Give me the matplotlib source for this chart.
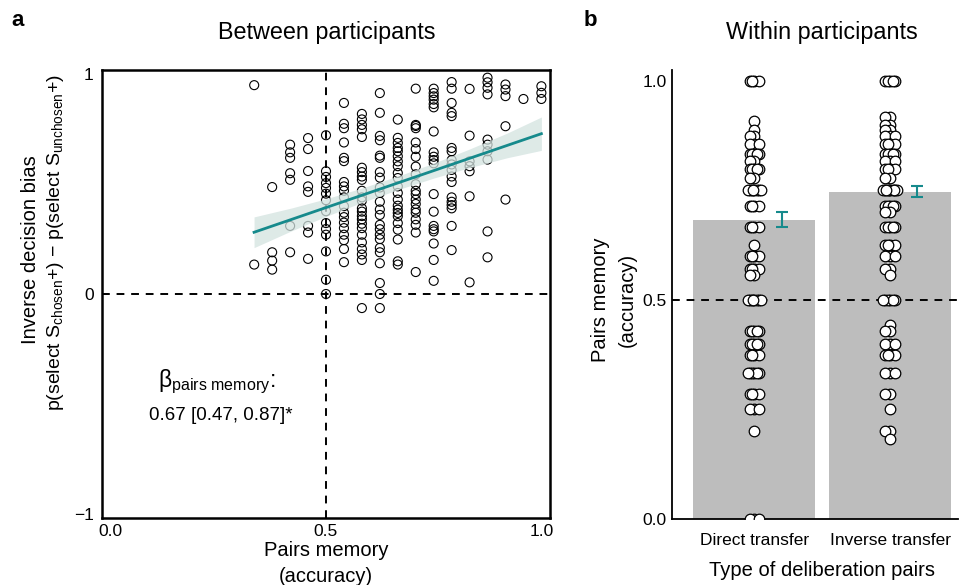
import numpy as np
import matplotlib
matplotlib.use("Agg")
import matplotlib.pyplot as plt

plt.rcParams['font.family'] = ['Liberation Sans', 'DejaVu Sans']
plt.rcParams['mathtext.fontset'] = 'custom'
plt.rcParams['mathtext.rm'] = 'Liberation Sans'
plt.rcParams['mathtext.it'] = 'Liberation Sans'
plt.rcParams['mathtext.default'] = 'regular'

# ---------------- Panel a data (between participants) ----------------
# pairs-memory accuracy levels (k correct out of 24) and inverse decision bias per participant
acc_08 = [0.951, 0.134]
acc_09 = [0.487, 0.190, 0.152, 0.111]
acc_10 = [0.680, 0.645, 0.620, 0.550, 0.520, 0.310, 0.190]
acc_11 = [0.710, 0.660, 0.560, 0.490, 0.465, 0.310, 0.280, 0.160]
acc_12 = [0.723, 0.559, 0.533, 0.505, 0.483, 0.457, 0.427, 0.377, 0.323, 0.296,
          0.270, 0.194, 0.065, 0.000]
acc_13 = [0.870, 0.775, 0.755, 0.690, 0.620, 0.605, 0.510, 0.490, 0.470, 0.440,
          0.400, 0.370, 0.350, 0.325, 0.300, 0.270, 0.245, 0.205, 0.145]
acc_14 = [0.820, 0.795, 0.770, 0.750, 0.715, 0.575, 0.555, 0.535, 0.520, 0.470,
          0.440, 0.425, 0.390, 0.375, 0.355, 0.340, 0.320, 0.300, 0.270, 0.235,
          0.205, 0.180, 0.155, -0.064]
acc_15 = [0.915, 0.825, 0.720, 0.700, 0.630, 0.620, 0.555, 0.530, 0.485, 0.460,
          0.420, 0.385, 0.360, 0.315, 0.295, 0.270, 0.250, 0.210, 0.190, 0.140,
          0.050, 0.000, -0.064]
acc_16 = [0.794, 0.711, 0.688, 0.665, 0.650, 0.627, 0.604, 0.582, 0.551, 0.528,
          0.490, 0.460, 0.430, 0.402, 0.384, 0.369, 0.354, 0.323, 0.293, 0.248,
          0.149, 0.134]
acc_17 = [0.935, 0.770, 0.765, 0.755, 0.690, 0.660, 0.625, 0.580, 0.545, 0.500,
          0.470, 0.455, 0.430, 0.410, 0.385, 0.370, 0.340, 0.315, 0.280, 0.100]
acc_18 = [0.935, 0.915, 0.900, 0.885, 0.865, 0.850, 0.740, 0.645, 0.625, 0.610,
          0.595, 0.455, 0.375, 0.310, 0.295, 0.285, 0.230, 0.155, 0.060]
acc_19 = [0.965, 0.935, 0.870, 0.825, 0.810, 0.665, 0.650, 0.610, 0.590, 0.565,
          0.535, 0.510, 0.440, 0.420, 0.405, 0.390, 0.310, 0.200]
acc_20 = [0.934, 0.721, 0.604, 0.582, 0.559, 0.445, 0.053]
acc_21 = [0.985, 0.964, 0.939, 0.909, 0.703, 0.680, 0.650, 0.612, 0.285, 0.167]
acc_22 = [0.954, 0.931, 0.901, 0.764, 0.430]
acc_23 = [0.888]
acc_24 = [0.946, 0.916, 0.888]
acc_numerators = [8, 9, 10, 11, 12, 13, 14, 15, 16, 17, 18, 19, 20, 21, 22, 23, 24]
acc_columns = [acc_08, acc_09, acc_10, acc_11, acc_12, acc_13, acc_14, acc_15, acc_16,
               acc_17, acc_18, acc_19, acc_20, acc_21, acc_22, acc_23, acc_24]

# regression fit and its confidence band half-widths
fit_intercept = 0.057
fit_slope = 0.673
ci_x = [0.333, 0.42, 0.50, 0.58, 0.67, 0.75, 0.83, 0.92, 1.00]
ci_half = [0.070, 0.052, 0.040, 0.033, 0.031, 0.034, 0.042, 0.056, 0.076]

# ---------------- Panel b data (within participants) ----------------
categories = ["Direct transfer", "Inverse transfer"]
bar_means = [0.683, 0.747]
bar_sem = [0.017, 0.013]

direct_levels = [1.0, 0.909, 0.889, 0.875, 0.857, 0.833, 0.818, 0.80, 0.778, 0.75,
                 0.714, 0.667, 0.625, 0.60, 0.571, 0.556, 0.5, 0.429, 0.40, 0.375,
                 0.333, 0.286, 0.25, 0.20, 0.0]
direct_counts = [4, 1, 1, 2, 3, 5, 2, 5, 2, 8, 4, 4, 1, 4, 4, 2, 8, 5, 5, 4, 6, 4, 3, 1, 3]
inverse_levels = [1.0, 0.917, 0.90, 0.889, 0.875, 0.857, 0.833, 0.818, 0.80, 0.778,
                  0.75, 0.714, 0.70, 0.667, 0.625, 0.60, 0.571, 0.556, 0.5, 0.444,
                  0.429, 0.40, 0.375, 0.333, 0.286, 0.25, 0.20, 0.182]
inverse_counts = [5, 2, 2, 2, 3, 4, 5, 3, 4, 2, 10, 5, 2, 5, 4, 3, 2, 1, 6, 1,
                  2, 3, 4, 3, 2, 1, 2, 1]

TEAL = "#168a8c"
W, H = 960, 585

fig = plt.figure(figsize=(9.6, 5.85), dpi=100)

def fx(px):
    return px / W

def fy(py):
    return 1 - py / H

# ---------------- Panel a ----------------
axA = fig.add_axes([fx(102), fy(518), (550 - 102) / W, (518 - 70) / H])
xs, ys = [], []
for k, col in zip(acc_numerators, acc_columns):
    xs += [k / 24] * len(col)
    ys += col
axA.scatter(xs, ys, s=42, facecolors='none', edgecolors='black', linewidths=0.8, zorder=2)

axA.axvline(0.5, color='black', lw=1.4, ls=(0, (4, 3.5)), zorder=1)
axA.axhline(0.0, color='black', lw=1.4, ls=(0, (4, 3.5)), zorder=1)

ci_x_arr = np.array(ci_x)
fit_line = fit_intercept + fit_slope * ci_x_arr
axA.fill_between(ci_x_arr, fit_line - np.array(ci_half), fit_line + np.array(ci_half),
                 color='#d3e3e0', alpha=0.75, lw=0, zorder=3)
axA.plot([ci_x[0], ci_x[-1]], [fit_intercept + fit_slope * ci_x[0], fit_intercept + fit_slope * ci_x[-1]],
         color=TEAL, lw=2.0, zorder=4)

axA.set_xlim(-0.02, 1.02)
axA.set_ylim(-1.02, 1.02)
axA.set_xticks([0, 0.5, 1.0])
axA.set_xticklabels(["0.0", "0.5", "1.0"])
axA.set_yticks([-1, 0, 1])
axA.set_yticklabels(["\u22121", "0", "1"])
axA.tick_params(axis='both', length=0, labelsize=12.5)
axA.tick_params(axis='x', pad=4)
axA.tick_params(axis='y', pad=6)
for sp in axA.spines.values():
    sp.set_linewidth(1.8)

axA.text(0.246, -0.40, r"β$_{pairs\ memory}$:", ha='center', va='center', fontsize=16.5)
axA.text(0.255, -0.555, "0.67 [0.47, 0.87]*", ha='center', va='center', fontsize=13.5)

# ---------------- Panel b ----------------
axB = fig.add_axes([fx(672), fy(519), (958 - 672) / W, (519 - 70) / H])
pos = np.arange(len(categories))
axB.bar(pos, bar_means, width=0.9, color='#bdbdbd', zorder=1)
axB.axhline(0.5, color='black', lw=1.4, ls=(0, (4, 3.5)), zorder=2)

jitter_pattern = [0.0, -0.035, 0.035, -0.018, 0.018, -0.05, 0.05, -0.008, 0.028, -0.028]
for i, (levels, counts) in enumerate([(direct_levels, direct_counts), (inverse_levels, inverse_counts)]):
    px, py = [], []
    for lv, c in zip(levels, counts):
        for j in range(c):
            px.append(pos[i] + jitter_pattern[j % len(jitter_pattern)])
            py.append(lv)
    axB.scatter(px, py, s=58, facecolors='white', edgecolors='black', linewidths=0.9, zorder=3)

axB.errorbar(pos + 0.2, bar_means, yerr=bar_sem, fmt='none', ecolor=TEAL,
             elinewidth=1.5, capsize=4.5, capthick=1.5, zorder=4)

axB.set_xlim(-0.607, 1.5)
axB.set_ylim(0, 1.025)
axB.set_yticks([0, 0.5, 1.0])
axB.set_yticklabels(["0.0", "0.5", "1.0"])
axB.set_xticks(pos)
axB.set_xticklabels(categories)
axB.tick_params(axis='both', length=0, labelsize=12.5)
axB.tick_params(axis='x', pad=10)
axB.tick_params(axis='y', pad=4)
axB.spines['top'].set_visible(False)
axB.spines['right'].set_visible(False)
axB.spines['left'].set_linewidth(1.3)
axB.spines['bottom'].set_linewidth(1.3)

# ---------------- Figure texts ----------------
fig.text(fx(18), fy(20), "a", fontsize=16, fontweight='bold', ha='center', va='center')
fig.text(fx(590), fy(20), "b", fontsize=16, fontweight='bold', ha='center', va='center')
fig.text(fx(327), fy(32), "Between participants", fontsize=16.8, ha='center', va='center')
fig.text(fx(822), fy(32), "Within participants", fontsize=16.8, ha='center', va='center')

fig.text(fx(31), fy(250), "Inverse decision bias", fontsize=14.5, rotation=90, ha='center', va='center')
fig.text(fx(56), fy(243), r"p(select S$_{chosen}$+) $-$ p(select S$_{unchosen}$+)",
         fontsize=14, rotation=90, ha='center', va='center')
fig.text(fx(326), fy(551), "Pairs memory", fontsize=14.5, ha='center', va='center')
fig.text(fx(326), fy(576), "(accuracy)", fontsize=14.5, ha='center', va='center')

fig.text(fx(600), fy(300), "Pairs memory", fontsize=14.5, rotation=90, ha='center', va='center')
fig.text(fx(627), fy(300), "(accuracy)", fontsize=14.5, rotation=90, ha='center', va='center')
fig.text(fx(822), fy(571), "Type of deliberation pairs", fontsize=14.5, ha='center', va='center')

fig.savefig("out.png", dpi=100)
